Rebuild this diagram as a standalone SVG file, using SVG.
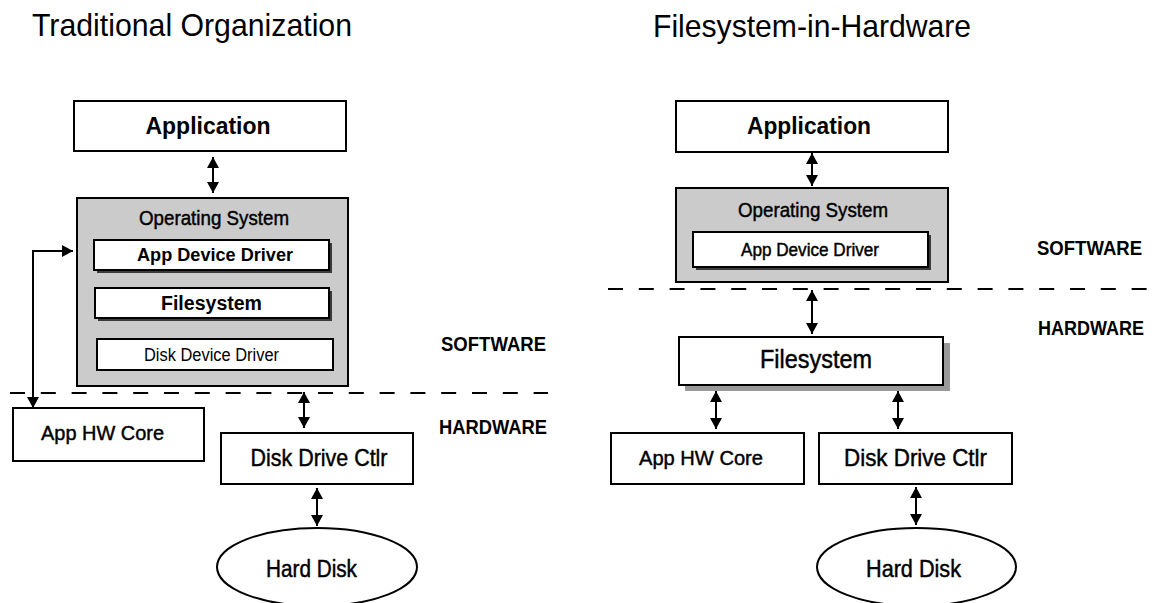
<svg xmlns="http://www.w3.org/2000/svg" width="1152" height="603" viewBox="0 0 1152 603">
  <style>
    .box { fill: #ffffff; stroke: #000000; stroke-width: 2; }
    .os { fill: #cbcbcb; stroke: #000000; stroke-width: 2; }
    .shadow { fill: #3a3a3a; }
    .shadow-lt { fill: #9a9a9a; }
    .t { font-family: "Liberation Sans", Arial, sans-serif; fill: #000000; text-anchor: middle; }
    .b { font-weight: bold; }
    .m { stroke: #000000; stroke-width: 0.45; }
    .title { font-family: "Liberation Sans", Arial, sans-serif; fill: #000000; font-size: 32px; }
    .lbl { font-family: "Liberation Sans", Arial, sans-serif; fill: #000000; font-weight: bold; font-size: 19.5px; }
    .link { fill: none; stroke: #000000; stroke-width: 2; marker-start: url(#head); marker-end: url(#head); }
    .divider { fill: none; stroke: #000000; stroke-width: 1.8; stroke-dasharray: 15 15.8; }
  </style>
  <defs>
    <marker id="head" viewBox="0 0 11 12" refX="11" refY="6" markerWidth="11" markerHeight="12" markerUnits="userSpaceOnUse" orient="auto-start-reverse">
      <path d="M0,0 L11,6 L0,12 z" fill="#000000"/>
    </marker>
  </defs>

  <rect width="1152" height="603" fill="#ffffff"/>

  <!-- headings -->
  <text class="title" x="32" y="36" textLength="320" lengthAdjust="spacingAndGlyphs">Traditional Organization</text>
  <text class="title" x="653" y="37" textLength="318" lengthAdjust="spacingAndGlyphs">Filesystem-in-Hardware</text>

  <!-- software / hardware boundaries -->
  <g id="boundaries">
    <line class="divider" x1="10" y1="393" x2="548" y2="393"/>
    <line class="divider" x1="608" y1="289" x2="1150" y2="289"/>
    <text class="lbl" x="441" y="351" textLength="105" lengthAdjust="spacingAndGlyphs">SOFTWARE</text>
    <text class="lbl" x="439" y="434" textLength="108" lengthAdjust="spacingAndGlyphs">HARDWARE</text>
    <text class="lbl" x="1037" y="255" textLength="105" lengthAdjust="spacingAndGlyphs">SOFTWARE</text>
    <text class="lbl" x="1038" y="335" textLength="106" lengthAdjust="spacingAndGlyphs">HARDWARE</text>
  </g>

  <!-- left stack: traditional organization -->
  <g id="app-left">
    <rect class="box" x="74" y="101" width="272" height="50"/>
    <text class="t b" x="208" y="134" font-size="24.5" textLength="125" lengthAdjust="spacingAndGlyphs">Application</text>
  </g>
  <g id="os-left">
    <rect class="os" x="77" y="198" width="271" height="188"/>
    <text class="t m" x="214" y="225" font-size="20.5" textLength="150" lengthAdjust="spacingAndGlyphs">Operating System</text>
  </g>
  <g id="appdrv-left">
    <rect class="shadow" x="97" y="243" width="235" height="30"/>
    <rect class="box" x="94" y="240" width="235" height="30"/>
    <text class="t b" x="215" y="261" font-size="18.5" textLength="156" lengthAdjust="spacingAndGlyphs">App Device Driver</text>
  </g>
  <g id="fs-left">
    <rect class="shadow" x="98" y="291" width="234" height="30"/>
    <rect class="box" x="95" y="288" width="234" height="30"/>
    <text class="t b" x="211.5" y="309.5" font-size="19.5" textLength="101" lengthAdjust="spacingAndGlyphs">Filesystem</text>
  </g>
  <g id="diskdrv-left">
    <rect class="box" x="97" y="339" width="236" height="31"/>
    <text class="t" x="211.5" y="361" font-size="18" textLength="135" lengthAdjust="spacingAndGlyphs">Disk Device Driver</text>
  </g>
  <g id="hwcore-left">
    <rect class="box" x="13" y="408" width="191" height="53"/>
    <text class="t m" x="102.5" y="440" font-size="21" textLength="123" lengthAdjust="spacingAndGlyphs">App HW Core</text>
  </g>
  <g id="ctlr-left">
    <rect class="box" x="221" y="433" width="192" height="51"/>
    <text class="t m" x="319" y="466" font-size="24" textLength="137" lengthAdjust="spacingAndGlyphs">Disk Drive Ctlr</text>
  </g>
  <g id="disk-left">
    <ellipse class="box" cx="317" cy="567" rx="100" ry="39"/>
    <text class="t m" x="311.5" y="577" font-size="23.5" textLength="91" lengthAdjust="spacingAndGlyphs">Hard Disk</text>
  </g>

  <!-- right stack: filesystem in hardware -->
  <g id="app-right">
    <rect class="box" x="676" y="101" width="272" height="51"/>
    <text class="t b" x="809" y="134" font-size="24.5" textLength="124" lengthAdjust="spacingAndGlyphs">Application</text>
  </g>
  <g id="os-right">
    <rect class="os" x="676" y="188" width="272" height="94"/>
    <text class="t m" x="813" y="217" font-size="20.5" textLength="150" lengthAdjust="spacingAndGlyphs">Operating System</text>
  </g>
  <g id="appdrv-right">
    <rect class="shadow" x="696" y="235" width="235" height="35"/>
    <rect class="box" x="693" y="232" width="235" height="35"/>
    <text class="t m" x="810" y="256" font-size="18" textLength="138" lengthAdjust="spacingAndGlyphs">App Device Driver</text>
  </g>
  <g id="fs-right">
    <rect class="shadow-lt" x="685" y="343" width="265" height="48"/>
    <rect class="box" x="679" y="337" width="264" height="48" stroke-width="2.5"/>
    <text class="t m" x="816" y="368" font-size="25" textLength="112" lengthAdjust="spacingAndGlyphs">Filesystem</text>
  </g>
  <g id="hwcore-right">
    <rect class="box" x="611" y="433" width="193" height="51"/>
    <text class="t m" x="701" y="465" font-size="21" textLength="124" lengthAdjust="spacingAndGlyphs">App HW Core</text>
  </g>
  <g id="ctlr-right">
    <rect class="box" x="819" y="433" width="193" height="51"/>
    <text class="t m" x="915.5" y="466" font-size="24" textLength="143" lengthAdjust="spacingAndGlyphs">Disk Drive Ctlr</text>
  </g>
  <g id="disk-right">
    <ellipse class="box" cx="916.5" cy="567" rx="99.5" ry="39"/>
    <text class="t m" x="913.5" y="577" font-size="23.5" textLength="95" lengthAdjust="spacingAndGlyphs">Hard Disk</text>
  </g>

  <!-- connectors -->
  <g id="connectors">
    <line class="link" x1="213" y1="157" x2="213" y2="193"/>
    <path class="link" d="M73,251 H33 V408"/>
    <line class="link" x1="304" y1="392" x2="304" y2="428"/>
    <line class="link" x1="317" y1="488" x2="317" y2="526"/>

    <line class="link" x1="812" y1="153" x2="812" y2="186"/>
    <line class="link" x1="812" y1="290" x2="812" y2="334"/>
    <line class="link" x1="716" y1="391" x2="716" y2="429"/>
    <line class="link" x1="898" y1="391" x2="898" y2="429"/>
    <line class="link" x1="916" y1="487" x2="916" y2="525"/>
  </g>
</svg>
